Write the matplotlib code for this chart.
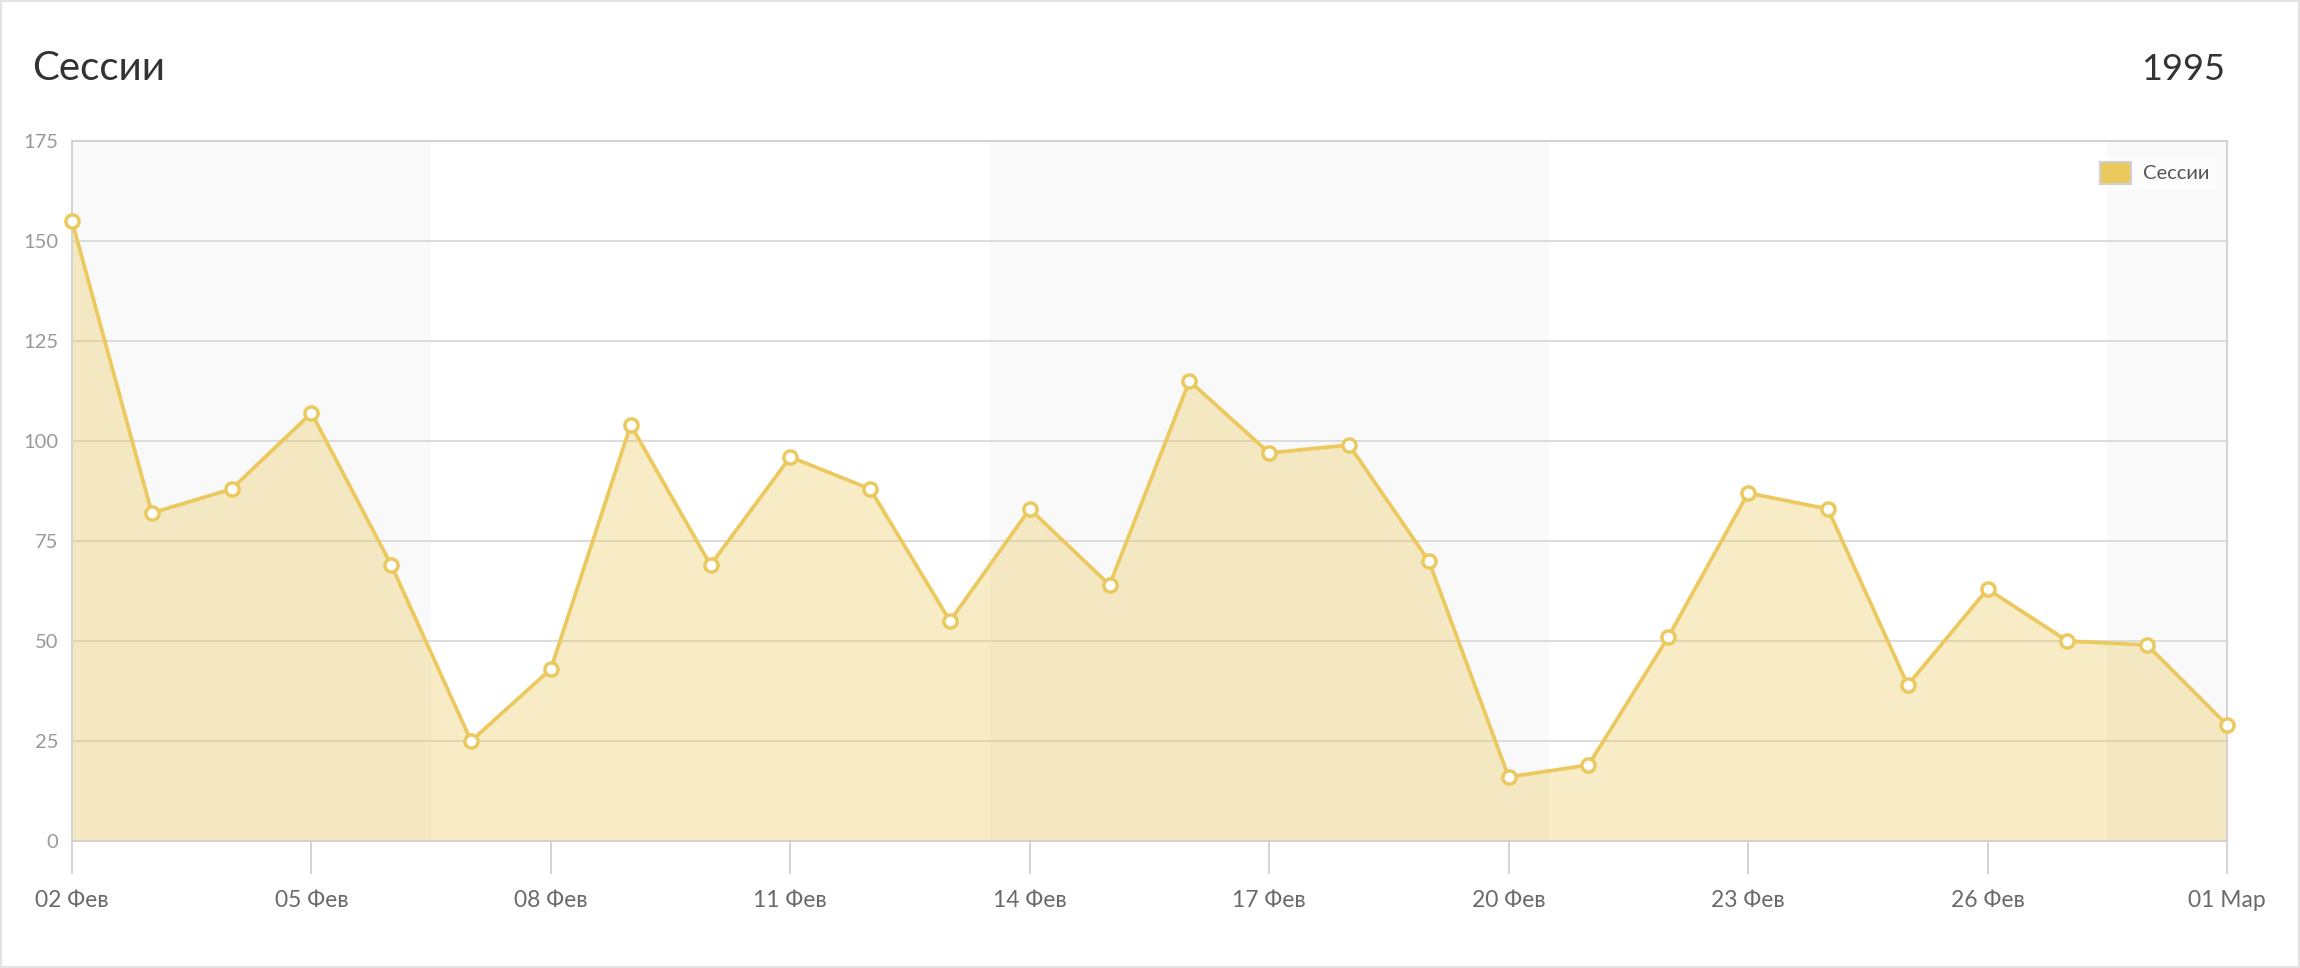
import matplotlib
matplotlib.use("Agg")
import matplotlib.pyplot as plt
from matplotlib.patches import Rectangle, Patch
import numpy as np

plt.rcParams['font.family'] = ['Lato', 'Noto Sans', 'DejaVu Sans']

title = "Сессии"
total_label = "1995"
series_name = "Сессии"
days = ["02 Фев", "03 Фев", "04 Фев", "05 Фев", "06 Фев", "07 Фев", "08 Фев",
        "09 Фев", "10 Фев", "11 Фев", "12 Фев", "13 Фев", "14 Фев", "15 Фев",
        "16 Фев", "17 Фев", "18 Фев", "19 Фев", "20 Фев", "21 Фев", "22 Фев",
        "23 Фев", "24 Фев", "25 Фев", "26 Фев", "27 Фев", "28 Фев", "01 Мар"]
sessions = [155, 82, 88, 107, 69, 25, 43, 104, 69, 96, 88, 55, 83, 64,
            115, 97, 99, 70, 16, 19, 51, 87, 83, 39, 63, 50, 49, 29]
y_ticks = [0, 25, 50, 75, 100, 125, 150, 175]
# shaded week bands (index ranges)
bands = [(-0.5, 4.5), (11.5, 18.5), (25.5, 27.5)]

line_color = "#ECC95F"
W, H = 2300, 968
fig = plt.figure(figsize=(W / 100, H / 100), dpi=100)
fig.patch.set_facecolor("white")
fig.patches.append(Rectangle((0, 0), 1, 1, transform=fig.transFigure,
                             fill=False, edgecolor="#E3E3E3", linewidth=3))

ax = fig.add_axes([72 / W, 1 - 841 / H, (2227 - 72) / W, (841 - 141) / H])
x = np.arange(len(sessions))
for a, b in bands:
    ax.axvspan(a, b, color="#F9F9F9", zorder=0, linewidth=0)
ax.set_xlim(0, len(sessions) - 1)
ax.set_ylim(0, 175)
ax.set_yticks(y_ticks)
ax.yaxis.grid(True, color="#D9D9D9", linewidth=1.3, zorder=1)
ax.set_axisbelow(True)
ax.fill_between(x, sessions, 0, color=line_color, alpha=0.35, linewidth=0, zorder=2)
ax.plot(x, sessions, color=line_color, linewidth=2.7, marker="o", markersize=9.5,
        markerfacecolor="white", markeredgecolor=line_color, markeredgewidth=2.5,
        zorder=4, clip_on=False)

tick_idx = list(range(0, len(days), 3))
ax.set_xticks(tick_idx)
ax.set_xticklabels([days[i] for i in tick_idx])
ax.tick_params(axis="x", length=24, width=1.3, color="#D0D0D0", pad=11,
               labelsize=16.5, labelcolor="#6A6A6A")
ax.tick_params(axis="y", length=0, pad=10, labelsize=14.5, labelcolor="#999999")
for s in ax.spines.values():
    s.set_color("#D0D0D0")
    s.set_linewidth(1.3)

leg = ax.legend(handles=[Patch(facecolor=line_color, edgecolor="#D0D0D0", linewidth=1.5,
                               label=series_name)],
                loc="upper right", bbox_to_anchor=(0.9965, 0.985), frameon=True,
                fontsize=14.5, handlelength=1.55, handleheight=1.3, handletextpad=0.6,
                borderpad=0.3, borderaxespad=0.2)
leg.get_frame().set_facecolor("white")
leg.get_frame().set_edgecolor("white")
leg.get_frame().set_alpha(0.6)
for t in leg.get_texts():
    t.set_color("#555555")

fig.text(32 / W, 1 - 69 / H, title, fontsize=29, color="#333333", ha="left", va="center")
fig.text(2225 / W, 1 - 69 / H, total_label, fontsize=26, color="#333333", ha="right", va="center")

fig.savefig("out.png", dpi=100)
